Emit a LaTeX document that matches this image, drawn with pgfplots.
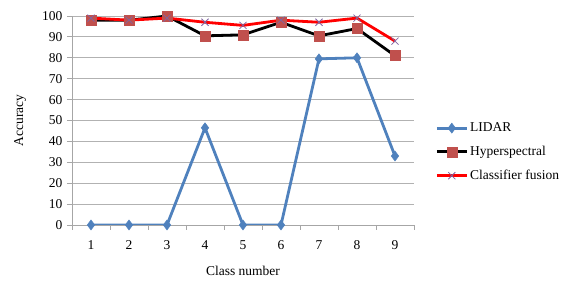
\documentclass[border=0pt]{standalone}
\usepackage{pgfplots}
\pgfplotsset{compat=1.18}
\usepackage{fontspec}
\setmainfont{Liberation Serif}
\definecolor{lidar}{RGB}{79,129,189}
\definecolor{hyper}{RGB}{192,80,77}
\definecolor{fus}{RGB}{128,100,162}
\begin{document}
\begin{tikzpicture}[x=1pt,y=1pt]
\useasboundingbox (0,0) rectangle (568,283);
\begin{axis}[
  at={(72pt,58pt)}, anchor=south west,
  scale only axis, width=342pt, height=209pt,
  xmin=0.5, xmax=9.5, ymin=0, ymax=100,
  xtick={1,...,9}, ytick={0,10,...,100},
  minor xtick={0.5,1.5,...,9.5},
  major x tick style={draw=none},
  minor tick length=5pt, major tick length=5pt,
  tick align=outside,
  axis x line*=bottom, axis y line*=left,
  axis line style={gray!70, line width=0.8pt},
  tick style={gray!70, line width=0.8pt},
  ymajorgrids, grid style={gray!60, line width=0.8pt},
  font=\fontsize{13.5}{15}\selectfont,
  /pgf/number format/assume math mode=true,
  xticklabel style={yshift=-7pt},
  yticklabel style={xshift=-1pt},
  xlabel={Class number}, ylabel={Accuracy},
  every axis x label/.style={at={(axis description cs:0.5,-0.22)}, anchor=center},
  every axis y label/.style={at={(axis description cs:-0.152,0.5)}, rotate=90, anchor=center},
  legend style={draw=none, fill=none, at={(1.062,0.349)}, anchor=west, row sep=9pt, inner sep=0pt, font=\fontsize{13.5}{15}\selectfont},
  legend cell align=left,
  legend image code/.code={\draw[#1] (0pt,0pt) -- (30pt,0pt); \draw[#1, only marks] plot coordinates {(15pt,0pt)};},
]
\addplot[color=lidar, line width=2.8pt, mark=diamond*, mark size=5pt, mark options={line width=0.5pt}] coordinates {(1,0) (2,0) (3,0) (4,46.5) (5,0) (6,0) (7,79.5) (8,80) (9,33)};
\addlegendentry{LIDAR}
\addplot[color=black, line width=2.8pt, mark=square*, mark size=5pt, mark options={fill=hyper, draw=hyper, line width=0.5pt}] coordinates {(1,98) (2,98) (3,100) (4,90.5) (5,91) (6,97) (7,90.5) (8,94) (9,81)};
\addlegendentry{Hyperspectral}
\addplot[color=red, line width=2.8pt, mark=x, mark size=5pt, mark options={draw=fus, line width=0.8pt}] coordinates {(1,99) (2,98) (3,99) (4,97) (5,95.5) (6,98) (7,97) (8,99) (9,88)};
\addlegendentry{Classifier fusion}
\end{axis}
\end{tikzpicture}
\end{document}
